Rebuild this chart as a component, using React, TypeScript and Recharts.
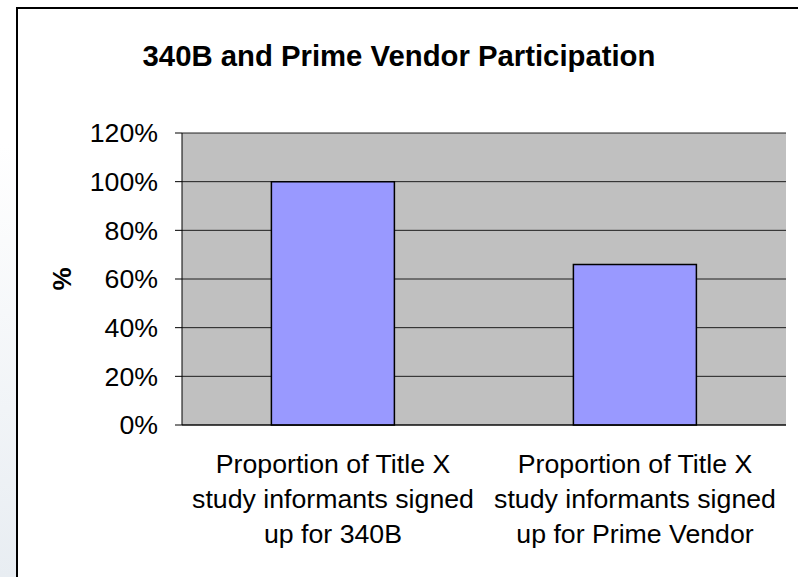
import { Bar, BarChart, CartesianGrid, XAxis, YAxis } from "recharts";

const categories = [
  "Proportion of Title X\nstudy informants signed\nup for 340B",
  "Proportion of Title X\nstudy informants signed\nup for Prime Vendor",
];
const shares = [1.0, 0.66];
const yTicks = [0, 0.2, 0.4, 0.6, 0.8, 1.0, 1.2];
const boundaryTicks = [0, 1, 2];

const data = categories.map((name, i) => ({ name, share: shares[i] }));

const font = "'Liberation Sans', Arial, sans-serif";
const pct = (v: number) => `${Math.round(v * 100)}%`;

function CategoryTick({ x, y, payload }: any) {
  const lines = String(payload.value).split("\n");
  return (
    <text x={x} y={y} textAnchor="middle" fontSize={26.7} fontFamily={font} fill="#000">
      {lines.map((l, i) => (
        <tspan key={i} x={x} dy={i === 0 ? 48 : 35}>
          {l}
        </tspan>
      ))}
    </text>
  );
}

function PercentLabel({ viewBox }: any) {
  const cx = viewBox.x + 62;
  const cy = viewBox.y + viewBox.height / 2;
  return (
    <text
      transform={`translate(${cx}, ${cy}) rotate(-90)`}
      textAnchor="middle"
      dominantBaseline="central"
      fontSize={26}
      fontWeight="bold"
      fontFamily={font}
      fill="#000"
    >
      %
    </text>
  );
}

export default function App() {
  return (
    <div
      style={{
        position: "absolute",
        left: 0,
        top: 0,
        width: 798,
        height: 577,
        overflow: "hidden",
        background: "linear-gradient(to bottom, #ffffff 0%, #ffffff 25%, #e8edf2 100%)",
        fontFamily: font,
      }}
    >
      <div
        style={{
          position: "absolute",
          left: 16,
          top: 7,
          width: 820,
          height: 620,
          background: "#fff",
          border: "2px solid #000",
          boxSizing: "border-box",
        }}
      />
      <div
        style={{
          position: "absolute",
          left: 0,
          top: 41,
          width: 798,
          textAlign: "center",
          fontSize: 29.3,
          lineHeight: "29px",
          fontWeight: "bold",
          color: "#000",
        }}
      >
        340B and Prime Vendor Participation
      </div>
      <div style={{ position: "absolute", left: 0, top: 0 }}>
        <BarChart
          width={798}
          height={577}
          data={data}
          margin={{ top: 133, right: 12, bottom: 0, left: 0 }}
          barCategoryGap="29.6%"
        >
          <CartesianGrid vertical={false} fill="#C0C0C0" stroke="#000" strokeOpacity={0.85} />
          <XAxis
            xAxisId="bounds"
            type="number"
            domain={[0, 2]}
            ticks={boundaryTicks}
            allowDataOverflow
            height={0}
            axisLine={false}
            tickSize={7}
            tickLine={{ stroke: "#000" }}
            tick={() => <g />}
          />
          <XAxis
            xAxisId="cat"
            dataKey="name"
            interval={0}
            height={152}
            tickLine={false}
            tickSize={0}
            tickMargin={0}
            axisLine={{ stroke: "#000" }}
            tick={<CategoryTick />}
          />
          <YAxis
            width={182}
            domain={[0, 1.2]}
            ticks={yTicks}
            interval={0}
            tickFormatter={pct}
            tickSize={7}
            tickMargin={17}
            axisLine={{ stroke: "#000" }}
            tickLine={{ stroke: "#000" }}
            tick={{ fill: "#000", fontSize: 26.7, fontFamily: font }}
            label={<PercentLabel />}
          />
          <Bar
            xAxisId="cat"
            dataKey="share"
            fill="#9999FF"
            stroke="#000"
            strokeWidth={1.5}
            isAnimationActive={false}
          />
        </BarChart>
      </div>
    </div>
  );
}
